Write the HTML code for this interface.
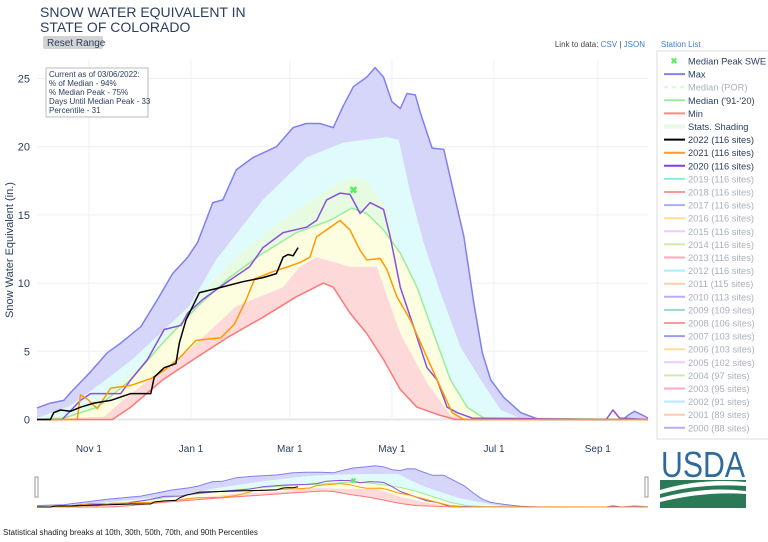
<!DOCTYPE html>
<html><head><meta charset="utf-8"><style>
body{margin:0;background:#fff;font-family:"Liberation Sans",sans-serif;}
svg text{font-family:"Liberation Sans",sans-serif;}
</style></head><body>
<svg id="chart" width="768" height="537" xmlns="http://www.w3.org/2000/svg">
<text x="40" y="17" font-size="14" fill="#2a3f5f">SNOW WATER EQUIVALENT IN</text>
<text x="40" y="32" font-size="14" fill="#2a3f5f">STATE OF COLORADO</text>
<g><rect x="43" y="36" width="60" height="13" rx="2" fill="#d3d3d3"/><text x="47" y="46" font-size="10" fill="#2a3f5f">Reset Range</text></g>
<text x="645" y="47" font-size="8" fill="#444" text-anchor="end">Link to data: <tspan fill="#3b7ddd">CSV</tspan> | <tspan fill="#3b7ddd">JSON</tspan></text>
<text x="661" y="47" font-size="8" fill="#3b7ddd">Station List</text>
<text transform="translate(13,250) rotate(-90)" font-size="11" fill="#2a3f5f" text-anchor="middle">Snow Water Equivalent (in.)</text>
<g id="grid"></g><g id="bands"></g><g id="lines"></g><g id="nav"></g>
<g><rect x="46" y="68" width="102" height="49" fill="#fff" stroke="#bbb"/>
<text font-size="8" fill="#2a3f5f"><tspan x="49" y="77">Current as of 03/06/2022:</tspan><tspan x="49" y="86">% of Median - 94%</tspan><tspan x="49" y="95">% Median Peak - 75%</tspan><tspan x="49" y="104">Days Until Median Peak - 33</tspan><tspan x="49" y="113">Percentile - 31</tspan></text></g>
<g id="legend"><rect x="657" y="51" width="120" height="388" fill="#fff" stroke="#ddd"/></g>
<g>
<text x="703" y="477" font-size="36" fill="#2f6a9e" text-anchor="middle" textLength="84" lengthAdjust="spacingAndGlyphs">USDA</text>
<rect x="660" y="480" width="86" height="28" fill="#2c7a55"/>
<path d="M660 490 Q700 478 746 482 L746 486 Q700 483 660 494Z" fill="#fff"/>
<path d="M660 498 Q705 486 746 491 L746 494 Q705 491 660 502Z" fill="#fff"/>
</g>
<text x="3" y="535" font-size="8" fill="#222">Statistical shading breaks at 10th, 30th, 50th, 70th, and 90th Percentiles</text>
</svg>
<script>
const maxDays=[0,8,16,21,32,42,50,62,72,81,90,96,105,111,119,129,143,153,161,169,177,183,189,197,202,207,212,217,221,226,229,236,243,249,255,261,266,271,279,289,300,350,353,357,362,365];
const maxVals=[0.85,1.2,1.4,2.1,3.5,4.9,5.6,6.8,8.8,10.7,11.9,13,15.9,16.1,18.3,19.2,20,21.4,21.7,21.7,21.4,23,24.4,25.1,25.8,25.1,23.3,22.8,23.9,23.8,22.5,19.9,19.8,16.6,13.4,8.5,4.9,2.9,1.6,0.5,0,0,0.3,0.6,0.3,0.1];
const p90Days=[0,20,40,57,91,107,135,161,183,209,216,223,231,241,253,265,277,290,365];
const p90Vals=[0.1,1,2.8,4.4,8.3,11.7,16.1,19.2,20.3,20.7,20.5,16.6,12.9,9.3,5.3,2.9,0.7,0,0];
const p70Days=[0,20,40,60,80,100,120,140,160,180,187,197,209,217,233,247,265,365];
const p70Vals=[0,0.4,1.8,3.8,6.5,9.5,12,14,15.8,17.3,17.8,17.5,15.4,11.2,4.9,1.9,0,0];
const medDays=[0,16,36,56,75,96,115,135,155,175,188,197,207,217,227,237,247,257,267,365];
const medVals=[0,0.1,0.9,2.9,5.6,8.3,10.4,12.2,13.7,14.6,15.5,15.1,13.9,12.2,9.7,6.3,2.9,0.9,0.1,0];
const p30Days=[0,40,56,75,91,119,147,157,167,187,203,217,233,247,260,365];
const p30Vals=[0,0.2,1.9,3.6,5.1,8.3,9.7,11.2,11.9,11.2,11.2,6.3,2.7,0.3,0,0];
const minDays=[0,45,56,75,96,115,135,155,171,177,187,197,207,217,227,241,250,365];
const minVals=[0,0,0.9,2.9,4.6,6.1,7.5,9,10,9.7,7.8,6.3,4.4,2.2,0.9,0.3,0,0];
const y2022Days=[0,8,10,14,20,26,34,44,56,68,70,76,83,85,89,93,97,107,123,135,143,147,150,153,156];
const y2022Vals=[0,0,0.5,0.7,0.6,0.9,1.2,1.4,1.9,1.9,3.1,3.8,4.1,5.6,7.3,8.3,9.3,9.6,10.1,10.4,10.7,11.9,12.1,12.0,12.6];
const y2021Days=[0,24,26,30,36,44,56,68,76,85,95,110,118,125,130,140,150,157,163,167,173,181,187,193,197,205,209,215,223,231,239,248,255,365];
const y2021Vals=[0,0,1.8,1.5,0.8,2.3,2.5,3.0,3.6,4.5,5.8,6.0,7.0,8.8,10.3,10.8,11.2,11.5,11.9,13.4,13.9,14.6,13.9,12.4,11.7,11.8,11,9,7.3,5.1,2.9,0.5,0,0];
const y2020Days=[0,15,26,32,50,56,66,76,86,90,99,107,115,127,135,147,161,167,173,181,187,193,199,207,211,217,225,233,239,245,251,260,340,344,348,365];
const y2020Vals=[0,0,1.4,1.9,1.9,2.9,4.4,6.6,6.9,7.8,8.8,9.5,10.2,11.2,12.6,13.7,14.1,14.6,16.1,16.6,16.5,15.1,15.9,15.4,13.4,9.7,6.8,3.8,2.9,0.9,0.5,0.1,0,0.7,0.1,0];
const peakDay=[189], peakVal=[16.8];
const yTicks=[0,5,10,15,20,25];
const xTickDays=[31,92,151,212,273,335];
const xTickLabels=["Nov 1","Jan 1","Mar 1","May 1","Jul 1","Sep 1"];
const legendLabels=["Median Peak SWE","Max","Median (POR)","Median ('91-'20)","Min","Stats. Shading","2022 (116 sites)","2021 (116 sites)","2020 (116 sites)","2019 (116 sites)","2018 (116 sites)","2017 (116 sites)","2016 (116 sites)","2015 (116 sites)","2014 (116 sites)","2013 (116 sites)","2012 (116 sites)","2011 (115 sites)","2010 (113 sites)","2009 (109 sites)","2008 (106 sites)","2007 (103 sites)","2006 (103 sites)","2005 (102 sites)","2004 (97 sites)","2003 (95 sites)","2002 (91 sites)","2001 (89 sites)","2000 (88 sites)"];
const legendColors=["#5e5","#8080f0","#cfc","#9e9","#f88","#e6fae6","#000","#f93","#8040e0","#8ed","#f99","#aaf","#fd9","#ecf","#cea","#fab","#aef","#fca","#baf","#9db","#f99","#99f","#fd9","#ecf","#cea","#fab","#aef","#fca","#baf"];

const NS="http://www.w3.org/2000/svg";
const X=d=>37+1.674*d, Y=v=>419.5-13.64*v, YN=v=>507-1.6*v;
function mk(t,a,p){const e=document.createElementNS(NS,t);for(const k in a)e.setAttribute(k,a[k]);p.appendChild(e);return e;}
function pts(ds,vs,yf){return ds.map((d,i)=>X(d).toFixed(1)+","+yf(vs[i]).toFixed(1));}
const grid=document.getElementById('grid'),bands=document.getElementById('bands'),lines=document.getElementById('lines'),nav=document.getElementById('nav'),leg=document.getElementById('legend');
yTicks.forEach(t=>{
 const l=mk('line',{x1:37,x2:648,y1:Y(t),y2:Y(t),stroke:t===0?'#e2e6ee':'#eef0f7','stroke-width':t===0?2:1},grid);
 
 
 const tx=mk('text',{x:30,y:Y(t)+4,'font-size':11,fill:'#2a3f5f','text-anchor':'end'},grid);tx.textContent=t;
 
 
});
xTickDays.forEach((d,i)=>{
 const l=mk('line',{x1:X(d),x2:X(d),y1:60,y2:420,stroke:'#eef0f7'},grid);
 
 
 const tx=mk('text',{x:X(d),y:452,'font-size':10,fill:'#2a3f5f','text-anchor':'middle'},grid);tx.textContent=xTickLabels[i];
 
 
});
const bandDefs=[[maxDays,maxVals,p90Days,p90Vals,'#d6d6fb','band-max-p90'],[p90Days,p90Vals,p70Days,p70Vals,'#e0fbfb','band-p90-p70'],[p70Days,p70Vals,medDays,medVals,'#e6fbe2','band-p70-median'],[medDays,medVals,p30Days,p30Vals,'#fdfde0','band-median-p30'],[p30Days,p30Vals,minDays,minVals,'#fdd9d9','band-p30-min']];
function drawSet(g,yf,sw,main){
 bandDefs.forEach(b=>{
  const p=pts(b[0],b[1],yf).concat(pts(b[2],b[3],yf).reverse());
  const e=mk('polygon',{points:p.join(' '),fill:b[4]},g);
  
  
 });
 const ls=[[minDays,minVals,'#f77','min-line'],[medDays,medVals,'#9e9','median-line'],[maxDays,maxVals,'#8080f0','max-line'],[y2020Days,y2020Vals,'#8a4fe0','line-2020'],[y2021Days,y2021Vals,'#f90','line-2021'],[y2022Days,y2022Vals,'#000','line-2022']];
 ls.forEach(s=>{
  const e=mk('polyline',{points:pts(s[0],s[1],yf).join(' '),fill:'none',stroke:s[2],'stroke-width':sw,'stroke-linejoin':'round'},g);
  
  
 });
 const m=mk('text',{x:X(peakDay[0]),y:yf(peakVal[0])+3,'font-size':main?10:7,fill:'#5e5','text-anchor':'middle','font-weight':'bold'},g);m.textContent='✖';
 
 
}
drawSet(bands,Y,1.5,true);
drawSet(nav,YN,1,false);
[37,647].forEach(x=>{
 const h=mk('rect',{x:x-2,y:477,width:3,height:20,fill:'#fff',stroke:'#999'},nav);
 
 
});
legendLabels.forEach((lab,i)=>{
 const yy=61+i*13.1;
 if(i===0){const t=mk('text',{x:674,y:yy+3,'font-size':9,fill:legendColors[i],'text-anchor':'middle'},leg);t.textContent='✖';}
 else{mk('line',{x1:664,x2:685,y1:yy,y2:yy,stroke:legendColors[i],'stroke-width':i===5?4:2,'stroke-dasharray':i===2?'4,4':'none'},leg);}
 const t=mk('text',{x:688,y:yy+3.5,'font-size':9.3,fill:(i<=1||(i>=3&&i<=8))?'#2a3f5f':'#a9b0bd'},leg);t.textContent=lab;
 
 
});
</script>
</body></html>
